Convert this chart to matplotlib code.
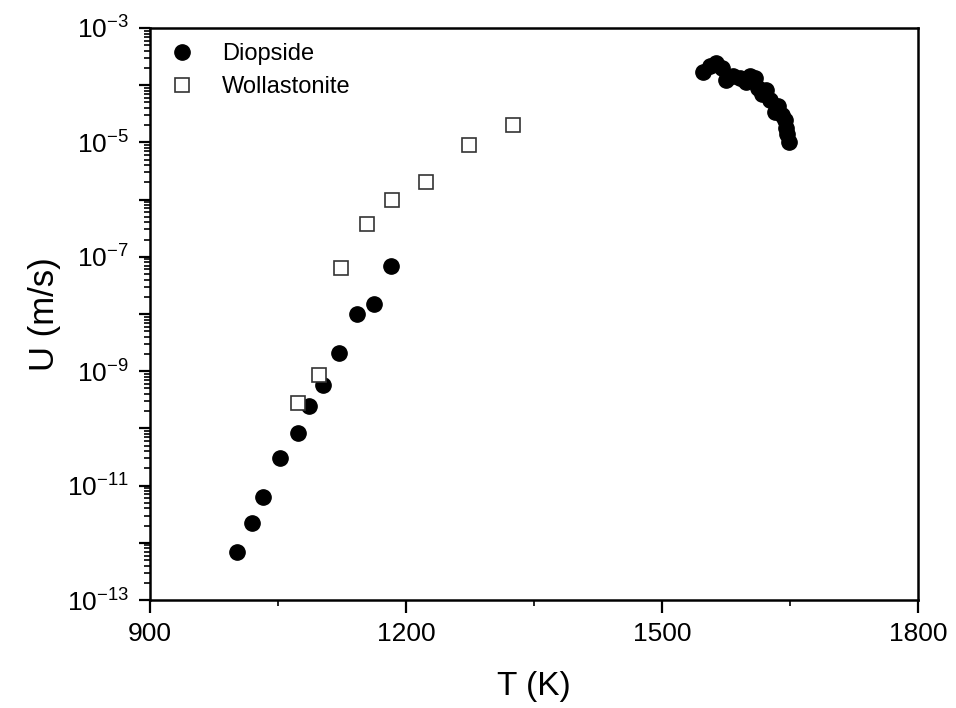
import matplotlib
matplotlib.use("Agg")
import matplotlib.pyplot as plt
from matplotlib.ticker import MultipleLocator, LogLocator, NullFormatter

plt.rcParams['font.family'] = ['Liberation Sans', 'DejaVu Sans']
plt.rcParams['mathtext.fontset'] = 'custom'
plt.rcParams['mathtext.rm'] = 'Liberation Sans'
plt.rcParams['mathtext.it'] = 'Liberation Sans'

# Diopside, low-T branch and high-T cluster
diop_T = [1002, 1019, 1033, 1052, 1073, 1086, 1103, 1122, 1143, 1162, 1182,
          1548, 1556, 1563, 1570, 1575, 1583, 1591, 1598, 1603, 1609, 1612,
          1617, 1622, 1627, 1632, 1636, 1641, 1644, 1645, 1646, 1649]
diop_U = [6.9e-13, 2.2e-12, 6.4e-12, 3.0e-11, 8.2e-11, 2.5e-10, 5.7e-10, 2.1e-9,
          1.0e-8, 1.5e-8, 7.0e-8,
          1.7e-4, 2.2e-4, 2.45e-4, 2.0e-4, 1.23e-4, 1.45e-4, 1.35e-4, 1.15e-4,
          1.45e-4, 1.35e-4, 8.9e-5, 7.1e-5, 8.3e-5, 5.5e-5, 3.4e-5, 4.4e-5,
          3.0e-5, 2.45e-5, 1.8e-5, 1.4e-5, 1.02e-5]

# Wollastonite
woll_T = [1074, 1098, 1124, 1154, 1183, 1223, 1274, 1325]
woll_U = [2.8e-10, 8.5e-10, 6.3e-8, 3.7e-7, 1.0e-6, 2.0e-6, 9.0e-6, 2.0e-5]

xticks = [900, 1200, 1500, 1800]
ydecades = list(range(-13, -2))

fig = plt.figure(figsize=(9.56, 7.08), dpi=100)
ax = fig.add_axes([0.1569, 0.1525, 0.8034, 0.808])

ax.plot(diop_T, diop_U, 'o', color='black', markersize=11, linestyle='none',
        label='Diopside')
ax.plot(woll_T, woll_U, 's', markerfacecolor='white', markeredgecolor='#333333',
        markeredgewidth=1.2, markersize=10, linestyle='none', label='Wollastonite')

ax.set_yscale('log')
ax.set_xlim(900, 1800)
ax.set_ylim(1e-13, 1e-3)

ax.set_xticks(xticks)
ax.set_xticklabels([str(t) for t in xticks])
ax.xaxis.set_minor_locator(MultipleLocator(150))

ax.set_yticks([10.0 ** d for d in ydecades])
ax.set_yticklabels(['$10^{%d}$' % d if d % 2 == 1 else '' for d in ydecades])
ax.yaxis.set_minor_locator(LogLocator(base=10, subs=range(2, 10), numticks=100))
ax.yaxis.set_minor_formatter(NullFormatter())

for s in ax.spines.values():
    s.set_linewidth(1.8)
ax.tick_params(which='major', direction='out', length=8, width=1.6,
               labelsize=19, pad=7)
ax.tick_params(which='minor', direction='out', length=4, width=1.2)
ax.tick_params(axis='x', which='major', length=9)

ax.set_xlabel('T (K)', fontsize=24, labelpad=18)
ax.set_ylabel('U (m/s)', fontsize=25, labelpad=4)

leg = ax.legend(loc='upper left', frameon=False, numpoints=1,
                prop={'size': 17},
                handletextpad=1.0, labelspacing=0.45, borderaxespad=0.25,
                handlelength=1.4)

fig.savefig('out.png', dpi=100)
